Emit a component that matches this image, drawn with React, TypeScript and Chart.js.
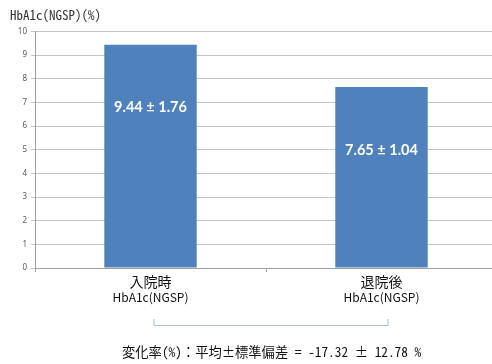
import React, { useEffect, useRef } from "react";
import { Chart, registerables } from "chart.js";

Chart.register(...registerables);

const title = "HbA1c(NGSP)(%)";
const categories = ["入院時", "退院後"];
const subLabels = ["HbA1c(NGSP)", "HbA1c(NGSP)"];
const means = [9.44, 7.65];
const sds = [1.76, 1.04];
const yTicks = [0, 1, 2, 3, 4, 5, 6, 7, 8, 9, 10];
const footer = "変化率(%)：平均±標準偏差 = -17.32 ± 12.78 %";

const JP = '"Noto Sans CJK JP", "Noto Sans", sans-serif';
const MONO = '"Noto Sans Mono CJK JP", "Noto Sans CJK JP", monospace';

const overlay = {
  id: "overlay",
  afterDatasetsDraw(chart: any) {
    const ctx = chart.ctx;
    const meta = chart.getDatasetMeta(0);
    ctx.save();
    ctx.fillStyle = "#ffffff";
    ctx.font = 'bold 14.5px Lato, "Noto Sans", sans-serif';
    ctx.textAlign = "center";
    ctx.textBaseline = "middle";
    meta.data.forEach((bar: any, i: number) => {
      ctx.fillText(`${means[i].toFixed(2)} ± ${sds[i].toFixed(2)}`, bar.x, bar.y + 63);
    });
    ctx.restore();
  },
  afterDraw(chart: any) {
    const ctx = chart.ctx;
    const xs = chart.scales.x;
    ctx.save();
    // title
    ctx.fillStyle = "#333333";
    ctx.font = "13px " + MONO;
    ctx.textAlign = "left";
    ctx.textBaseline = "middle";
    ctx.fillText(title, 10, 15);
    // category labels
    ctx.textAlign = "center";
    ctx.fillStyle = "#111111";
    categories.forEach((c, i) => {
      const x = xs.getPixelForTick(i);
      ctx.font = "14px " + JP;
      ctx.fillText(c, x, 282);
      ctx.font = "12px " + JP;
      ctx.fillText(subLabels[i], x, 297);
    });
    // bracket
    const x0 = xs.getPixelForTick(0) + 3;
    const x1 = xs.getPixelForTick(1) + 6;
    ctx.strokeStyle = "#a9bcd0";
    ctx.lineWidth = 1;
    ctx.beginPath();
    ctx.moveTo(x0 + 0.5, 319);
    ctx.lineTo(x0 + 0.5, 325.5);
    ctx.lineTo(x1 + 0.5, 325.5);
    ctx.lineTo(x1 + 0.5, 319);
    ctx.stroke();
    // footer
    ctx.fillStyle = "#111111";
    ctx.font = "13.3px " + MONO;
    ctx.textAlign = "left";
    ctx.fillText(footer, 122, 352);
    ctx.restore();
  },
};

export default function App() {
  const ref = useRef<HTMLCanvasElement>(null);
  useEffect(() => {
    if (!ref.current) return;
    const chart = new Chart(ref.current, {
      type: "bar",
      data: {
        labels: categories,
        datasets: [
          {
            data: means,
            backgroundColor: "#4f81bd",
            barPercentage: 0.4,
            categoryPercentage: 1,
          },
        ],
      },
      options: {
        animation: false,
        responsive: false,
        devicePixelRatio: 1,
        layout: { padding: { top: 31.5, left: 0, right: 0, bottom: 0 } },
        plugins: { legend: { display: false }, tooltip: { enabled: false }, title: { display: false } },
        scales: {
          x: {
            offset: true,
            grid: {
              offset: true,
              drawOnChartArea: false,
              drawTicks: true,
              tickLength: 4,
              color: "#a0a0a0",
            },
            border: { display: true, color: "#a0a0a0" },
            ticks: { callback: () => "", font: { size: 8 } },
            afterFit: (s: any) => {
              s.height = 96;
            },
          },
          y: {
            min: 0,
            max: 10,
            afterBuildTicks: (s: any) => {
              s.ticks = yTicks.map((v) => ({ value: v }));
            },
            grid: { color: "#c4c4c4", tickLength: 4 },
            border: { display: true, color: "#a0a0a0" },
            ticks: {
              color: "#555555",
              font: { size: 8, family: '"Noto Sans", sans-serif' },
              padding: 4,
            },
            afterFit: (s: any) => {
              s.width = 35;
            },
          },
        },
      },
      plugins: [overlay],
    });
    return () => chart.destroy();
  }, []);
  return (
    <div style={{ position: "fixed", left: 0, top: 0, width: 492, height: 364, overflow: "hidden", background: "#fff" }}>
      <canvas ref={ref} width={497} height={364} style={{ display: "block" }} />
    </div>
  );
}
